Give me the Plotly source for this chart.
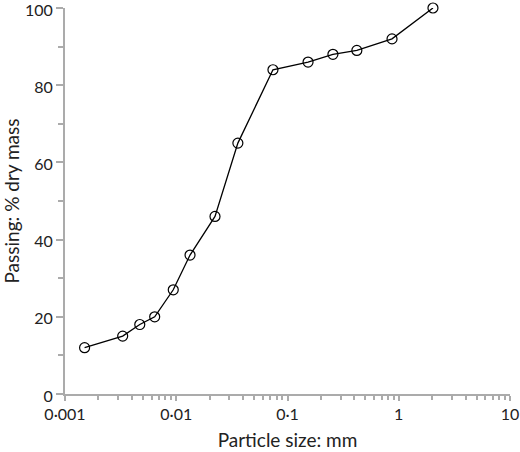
import plotly.graph_objects as go

# grading curve
size_mm = [0.0015, 0.0033, 0.0047, 0.0064, 0.0094, 0.0133, 0.0223, 0.0358,
           0.074, 0.153, 0.256, 0.42, 0.87, 2.03]
passing = [12, 15, 18, 20, 27, 36, 46, 65, 84, 86, 88, 89, 92, 100]

x_tickvals = [0.001, 0.01, 0.1, 1, 10]
x_ticktext = ['0·001', '0·01', '0·1', '1', '10']
y_tickvals = [0, 20, 40, 60, 80, 100]

AXIS_GREY = '#ababab'
FONT = dict(family='Lato, Open Sans, sans-serif', size=16, color='#222222')

fig = go.Figure()

fig.add_trace(go.Scatter(
    x=size_mm,
    y=passing,
    mode='lines+markers',
    line=dict(color='black', width=1.3),
    marker=dict(symbol='circle-open', size=10, color='black', line=dict(width=1.2)),
    showlegend=False,
    hoverinfo='skip',
    cliponaxis=False,
))

fig.update_layout(
    width=520,
    height=452,
    margin=dict(l=65, r=10, t=8, b=58),
    paper_bgcolor='white',
    plot_bgcolor='white',
    font=FONT,
    xaxis=dict(
        type='log',
        range=[-3, 1],
        tickvals=x_tickvals,
        ticktext=x_ticktext,
        ticks='outside',
        ticklen=5,
        tickwidth=1.5,
        tickcolor=AXIS_GREY,
        minor=dict(ticks='outside', ticklen=4, tickwidth=1.5, tickcolor=AXIS_GREY, dtick='D1'),
        showline=True,
        linecolor=AXIS_GREY,
        linewidth=2,
        showgrid=False,
        zeroline=False,
        automargin=False,
        ticklabeloverflow='allow',
        title=dict(text='Particle size: mm', standoff=11),
    ),
    yaxis=dict(
        range=[0, 100],
        tickvals=y_tickvals,
        ticks='outside',
        ticklen=7,
        tickwidth=1.5,
        tickcolor=AXIS_GREY,
        minor=dict(ticks='outside', ticklen=5, tickwidth=1.5, tickcolor=AXIS_GREY, dtick=10),
        showline=True,
        linecolor=AXIS_GREY,
        linewidth=2,
        showgrid=False,
        zeroline=False,
        automargin=False,
        ticklabeloverflow='allow',
        ticklabelshift=2,
        title=dict(text='Passing: % dry mass', standoff=12),
    ),
    # overlay axes only used to draw the inner half of the major ticks
    xaxis2=dict(
        type='log', range=[-3, 1], overlaying='x', anchor='y', side='bottom',
        tickvals=x_tickvals, ticks='inside', ticklen=6, tickwidth=1.5,
        tickcolor=AXIS_GREY, showticklabels=False, showline=False,
        showgrid=False, zeroline=False, automargin=False,
    ),
    yaxis2=dict(
        range=[0, 100], overlaying='y', anchor='x', side='left',
        tickvals=y_tickvals, ticks='inside', ticklen=7, tickwidth=1.5,
        tickcolor=AXIS_GREY, showticklabels=False, showline=False,
        showgrid=False, zeroline=False, automargin=False,
    ),
)

# drop the default page margin so the figure sits at the window corner
fig.write_html('out.html', config={'displayModeBar': False},
               post_script="document.body.style.margin='0';")
